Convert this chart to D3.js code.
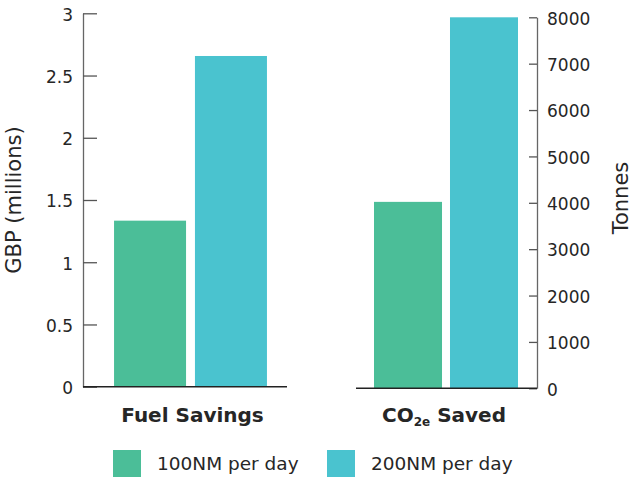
<!DOCTYPE html>
<html>
<head>
<meta charset="utf-8">
<script src="https://cdn.jsdelivr.net/npm/d3@7"></script>
<style>
  html, body { margin: 0; padding: 0; background: #fff; }
  svg { display: block; font-family: "DejaVu Sans", sans-serif; }
</style>
</head>
<body>
<svg id="chart" width="632" height="477"></svg>
<script>
// data
var seriesNames = ["100NM per day", "200NM per day"];
var seriesColors = ["#4bbe98", "#4ac3cf"];
var fuelSavings = [1.334, 2.657];      // GBP millions
var co2Saved = [4020, 8000];           // tonnes
var leftTicks = [0, 0.5, 1, 1.5, 2, 2.5, 3];
var rightTicks = [0, 1000, 2000, 3000, 4000, 5000, 6000, 7000, 8000];

var svg = d3.select("#chart");
var textColor = "#262626";

// scales
var yLeft = d3.scaleLinear().domain([0, 3]).range([386.7, 13.3]);
var yRight = d3.scaleLinear().domain([0, 8000]).range([388.3, 17.3]);

var xLeft = d3.scaleBand().domain(seriesNames).range([110, 271])
    .paddingInner(0.11).paddingOuter(0.05);
var xRight = d3.scaleBand().domain(seriesNames).range([370.2, 521.8])
    .paddingInner(0.105).paddingOuter(0.05);

// bars
function drawBars(values, x, y) {
    svg.append("g").selectAll("rect")
        .data(values)
        .enter().append("rect")
        .attr("x", function (d, i) { return x(seriesNames[i]); })
        .attr("y", function (d) { return y(d); })
        .attr("width", x.bandwidth())
        .attr("height", function (d) { return y(0) - y(d); })
        .attr("fill", function (d, i) { return seriesColors[i]; });
}
drawBars(fuelSavings, xLeft, yLeft);
drawBars(co2Saved, xRight, yRight);

// axes
var leftAxis = svg.append("g")
    .attr("transform", "translate(83,0)")
    .call(d3.axisLeft(yLeft).tickValues(leftTicks)
        .tickFormat(function (d) { return String(d); })
        .tickSizeInner(-14).tickSizeOuter(0).tickPadding(10));

var rightAxis = svg.append("g")
    .attr("transform", "translate(537,0)")
    .call(d3.axisRight(yRight).tickValues(rightTicks)
        .tickFormat(function (d) { return String(d); })
        .tickSizeInner(-8).tickSizeOuter(0).tickPadding(10));

[leftAxis, rightAxis].forEach(function (ax) {
    ax.select(".domain").attr("stroke", "#666").attr("stroke-width", 1.3);
    ax.selectAll(".tick line").attr("stroke", "#555").attr("stroke-width", 1.3);
    ax.selectAll(".tick text")
        .attr("fill", textColor)
        .attr("dy", "0.4em")
        .style("font-size", "17px")
        .style("font-family", "DejaVu Sans, sans-serif");
});

// baselines
svg.append("line")
    .attr("x1", 83).attr("x2", 287)
    .attr("y1", yLeft(0)).attr("y2", yLeft(0))
    .attr("stroke", "#222").attr("stroke-width", 1.4);
svg.append("line")
    .attr("x1", 356).attr("x2", 537)
    .attr("y1", yRight(0)).attr("y2", yRight(0))
    .attr("stroke", "#222").attr("stroke-width", 1.4);

// axis titles
svg.append("text")
    .attr("transform", "translate(21,200) rotate(-90)")
    .attr("text-anchor", "middle")
    .attr("fill", textColor)
    .style("font-size", "21px")
    .text("GBP (millions)");

svg.append("text")
    .attr("transform", "translate(628,198) rotate(-90)")
    .attr("text-anchor", "middle")
    .attr("fill", textColor)
    .style("font-size", "21px")
    .text("Tonnes");

// category labels
var leftCenter = (xLeft(seriesNames[0]) + xLeft(seriesNames[1]) + xLeft.bandwidth()) / 2;
var rightCenter = (xRight(seriesNames[0]) + xRight(seriesNames[1]) + xRight.bandwidth()) / 2;

svg.append("text")
    .attr("x", leftCenter + 2).attr("y", 422)
    .attr("text-anchor", "middle")
    .attr("fill", textColor)
    .style("font-size", "20px").style("font-weight", "bold")
    .text("Fuel Savings");

var co2 = svg.append("text")
    .attr("x", rightCenter - 2).attr("y", 422)
    .attr("text-anchor", "middle")
    .attr("fill", textColor)
    .style("font-size", "20px").style("font-weight", "bold");
co2.append("tspan").text("CO");
co2.append("tspan").attr("dy", 4).style("font-size", "12px").text("2e");
co2.append("tspan").attr("dy", -4).text(" Saved");

// legend
var legend = svg.append("g").selectAll("g")
    .data(seriesNames)
    .enter().append("g")
    .attr("transform", function (d, i) { return "translate(" + (113 + i * 214) + ",450)"; });

legend.append("rect")
    .attr("width", 28).attr("height", 27)
    .attr("fill", function (d, i) { return seriesColors[i]; });

legend.append("text")
    .attr("x", 44).attr("y", 20)
    .attr("fill", textColor)
    .style("font-size", "18.5px")
    .text(function (d) { return d; });
</script>
</body>
</html>
